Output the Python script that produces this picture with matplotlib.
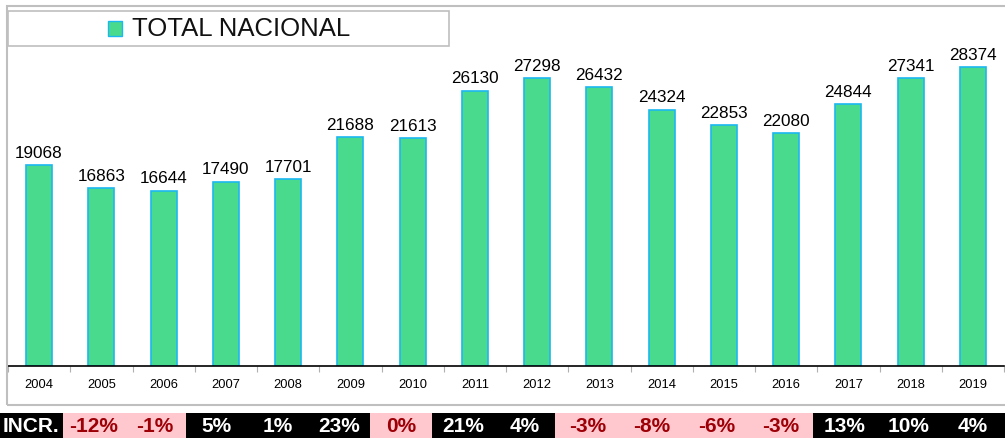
import matplotlib
matplotlib.use("Agg")
import matplotlib.pyplot as plt
from matplotlib.patches import Rectangle

plt.rcParams['font.family'] = ['Liberation Sans', 'DejaVu Sans']

years = ["2004", "2005", "2006", "2007", "2008", "2009", "2010", "2011",
         "2012", "2013", "2014", "2015", "2016", "2017", "2018", "2019"]
values = [19068, 16863, 16644, 17490, 17701, 21688, 21613, 26130,
          27298, 26432, 24324, 22853, 22080, 24844, 27341, 28374]
incr_labels = ["-12%", "-1%", "5%", "1%", "23%", "0%", "21%", "4%",
               "-3%", "-8%", "-6%", "-3%", "13%", "10%", "4%"]
incr_values = [-12, -1, 5, 1, 23, 0, 21, 4, -3, -8, -6, -3, 13, 10, 4]
series_name = "TOTAL NACIONAL"
incr_title = "INCR."

W, H = 1005, 439
fig = plt.figure(figsize=(W / 100, H / 100), dpi=100)

GREEN = "#4ADA8E"
BLUE = "#1AB8F0"
PINK = "#FFC7CE"
DARKRED = "#9C0006"
GREY = "#B0B0B0"

# outer chart frame
fig.add_artist(Rectangle((7 / W, (H - 406) / H), (W + 20) / W, (406 - 7) / H,
                         transform=fig.transFigure, fill=False,
                         edgecolor="#BFBFBF", linewidth=1.5))

# main axes
ax = fig.add_axes([8 / W, (H - 367) / H, (1004 - 8) / W, (367 - 7) / H])
ax.patch.set_alpha(0)
x = list(range(len(years)))
ax.bar(x, values, width=0.42, color=GREEN, edgecolor=BLUE, linewidth=1.2)
ax.set_xlim(-0.5, len(years) - 0.5)
ax.set_ylim(0, 34163)
for xi, v in zip(x, values):
    ax.text(xi, v + 500, str(v), ha="center", va="bottom", fontsize=12.3, color="black")
for s in ["top", "right", "left"]:
    ax.spines[s].set_visible(False)
ax.spines["bottom"].set_color("black")
ax.spines["bottom"].set_linewidth(1.2)
ax.set_yticks([])
ax.set_xticks(x)
ax.set_xticklabels(years, fontsize=9.3)
ax.tick_params(axis="x", length=0, pad=9)
ax.set_xticks([i + 0.5 for i in range(-1, len(years))], minor=True)
ax.tick_params(axis="x", which="minor", length=4, color=GREY, width=0.8)

# legend box
fig.add_artist(Rectangle((8 / W, (H - 47) / H), (449 - 8) / W, (47 - 12) / H,
                         transform=fig.transFigure, facecolor="white",
                         edgecolor="#BFBFBF", linewidth=1.2))
fig.add_artist(Rectangle((108 / W, (H - 37) / H), 14 / W, 15 / H,
                         transform=fig.transFigure, facecolor=GREEN,
                         edgecolor=BLUE, linewidth=1.0))
t = fig.text(132 / W, (H - 29.5) / H, series_name, fontsize=18.5, ha="left",
             va="center", color="#111111")

# increment strip
edges = [0, 63, 124, 186, 247, 309, 370, 432, 494, 555, 620, 684, 749, 813, 877, 941, 1005]
sax = fig.add_axes([0, 0, 1, (H - 414) / H])
sax.set_xlim(0, W)
sax.set_ylim(0, 1)
sax.axis("off")
labels = [incr_title] + incr_labels
for i, lab in enumerate(labels):
    x0, x1 = edges[i], edges[i + 1]
    if i == 0 or incr_values[i - 1] > 0:
        fc, tc = "black", "white"
    else:
        fc, tc = PINK, DARKRED
    sax.add_patch(Rectangle((x0, 0), x1 - x0, 1, facecolor=fc, edgecolor="none"))
    if i == 0:
        sax.text(x0 + 3, 0.5, lab, ha="left", va="center", fontsize=15,
                 fontweight="bold", color=tc)
    else:
        sax.text((x0 + x1) / 2, 0.5, lab, ha="center", va="center", fontsize=15,
                 fontweight="bold", color=tc)

fig.savefig("out.png", dpi=100)
